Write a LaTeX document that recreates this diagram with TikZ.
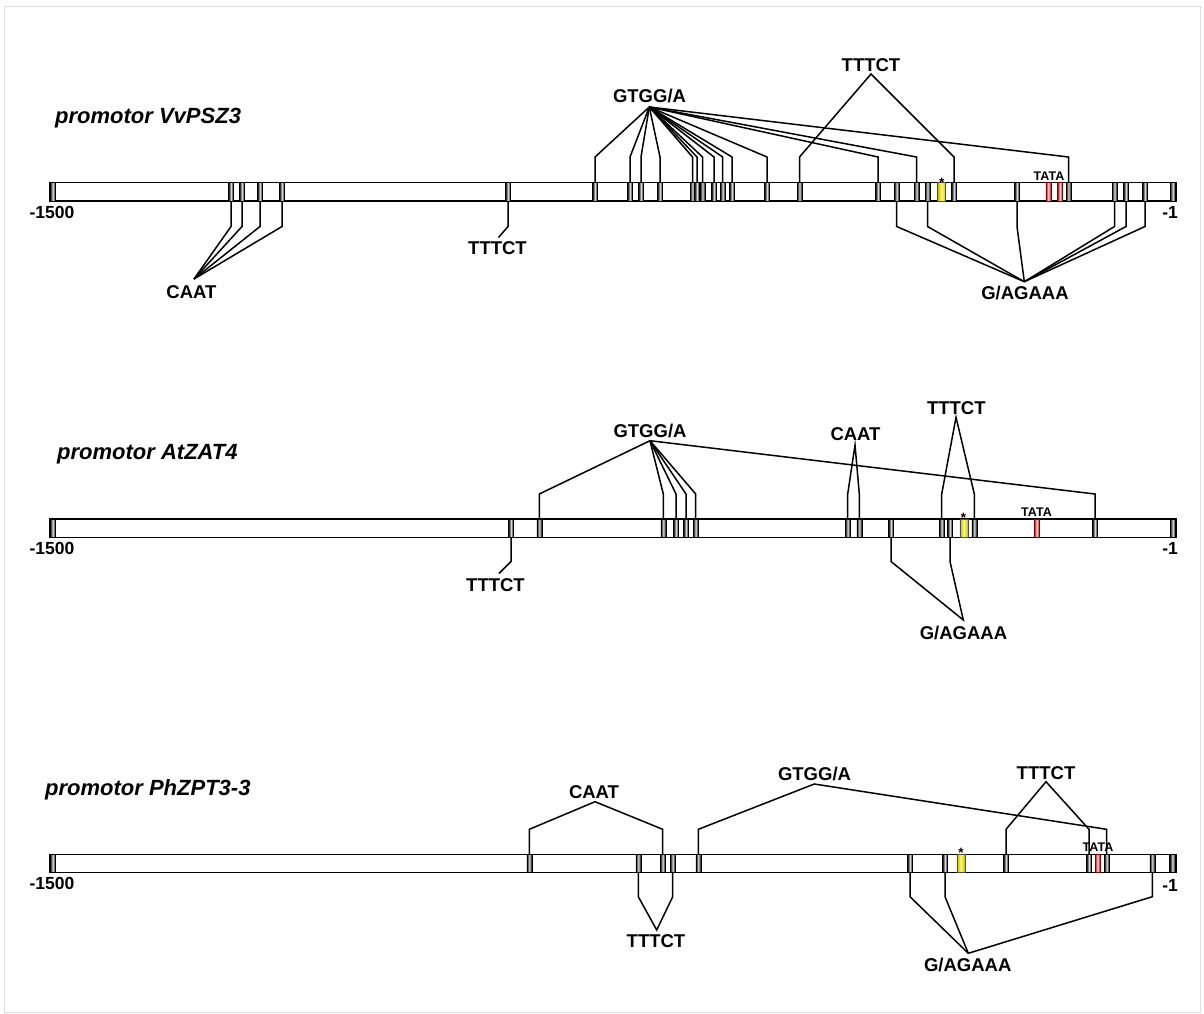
\documentclass[tikz,border=0pt]{standalone}
\usepackage{fontspec}
\setmainfont{Liberation Sans}
\begin{document}
\begin{tikzpicture}[x=1pt,y=-1pt,
  conn/.style={line width=1.5pt, line join=miter},
  barbox/.style={rectangle, draw=black, line width=1.5pt, fill=white, inner sep=0pt, minimum width=1126pt, minimum height=18.4pt},
  pmk/.style={rectangle, inner sep=0pt, minimum width=5pt, minimum height=18.4pt, left color=black, right color=black, middle color=black!15, draw=black, line width=0.6pt},
  endmk/.style={pmk, minimum width=5.5pt},
  ymk/.style={rectangle, inner sep=0pt, minimum width=8pt, minimum height=18.4pt, left color={rgb,255:red,200;green,190;blue,0}, right color={rgb,255:red,200;green,190;blue,0}, middle color={rgb,255:red,255;green,250;blue,120}, draw=black!70, line width=0.6pt},
  rmk/.style={rectangle, inner sep=0pt, minimum width=5pt, minimum height=18.4pt, left color=red!70!black, right color=red!70!black, middle color=red!15, draw=red!50!black, line width=0.6pt},
  lbl/.style={font=\bfseries\fontsize{18.5}{20}\selectfont, inner sep=0pt, text height=13.2pt, text depth=0pt},
  ttl/.style={font=\bfseries\itshape\fontsize{22}{24}\selectfont, inner sep=0pt, anchor=base west},
  num/.style={font=\bfseries\fontsize{17.5}{19}\selectfont, inner sep=0pt, text height=12.5pt, text depth=0pt},
  tata/.style={font=\bfseries\fontsize{12.5}{14}\selectfont, inner sep=0pt, text height=9pt, text depth=0pt},
  star/.style={font=\bfseries\fontsize{13.5}{14}\selectfont, inner sep=0pt, anchor=base}
]
\useasboundingbox (0,0) rectangle (1204,1013);
\draw[black!13, line width=1.5pt] (4.5,6.3) rectangle (1200.5,1012.5);

% ================= promotor VvPSZ3 =================
\node[ttl] (T1) at (55,123.3) {promotor VvPSZ3};
\node[barbox] (bar1) at (613,191.8) {};
\coordinate (kAt) at (0,157);
\coordinate (kAb) at (0,226.5);
\foreach \n/\x in {A1/231,A2/242,A3/260,A4/282,A5/508,A6/595,A7/630,A8/641,A9/660,A10/692.5,A11/697,A12/702.5,A13/714,A14/722.7,A15/732,A16/767,A17/799.5,A18/878,A19/896.7,A20/916.5,A21/927.5,A22/954,A23/1017,A24/1068.5,A25/1114.5,A26/1126,A27/1145}
  \node[pmk] (\n) at (\x,191.8) {};
\node[endmk] (A0) at (52.8,191.8) {};
\node[endmk] (Ae) at (1172.8,191.8) {};
\node[ymk] (Ay) at (941.7,191.8) {};
\node[rmk] (Ar1) at (1048.3,191.8) {};
\node[rmk] (Ar2) at (1060,191.8) {};

\node[lbl] (gA) at (649.5,95.5) {GTGG/A};
\coordinate (gAa) at (649.3,107);
\node[lbl] (tA) at (871,64.5) {TTTCT};
\coordinate (tAa) at (871,74);
\node[lbl] (cA) at (191.5,292) {CAAT};
\coordinate (cAa) at (194,279);
\node[lbl] (tbA) at (497.5,248) {TTTCT};
\coordinate (tbAa) at (498.5,237.5);
\node[lbl] (gaA) at (1025,293) {G/AGAAA};
\coordinate (gaAa) at (1024.3,281.7);
\node[tata] (taA) at (1049,176.2) {TATA};
\node[star] (sA) at (941.7,187) {*};
\node[num] (nA1) at (52,212.5) {-1500};
\node[num, anchor=east] (nA2) at (1178,212.5) {-1};

\foreach \m in {A6,A7,A8,A9,A10,A11,A12,A13,A14,A15,A16,A18,A20,A24}
  \draw[conn] (gAa) -- (\m |- kAt) -- (\m.north);
\draw[conn] (A17.north) -- (A17 |- kAt) -- (tAa) -- (A22 |- kAt) -- (A22.north);
\foreach \m in {A1,A2,A3,A4}
  \draw[conn] (cAa) -- (\m |- kAb) -- (\m.south);
\draw[conn] (A5.south) -- (A5 |- kAb) -- (tbAa);
\foreach \m in {A19,A21,A23,A25,A26,A27}
  \draw[conn] (gaAa) -- (\m |- kAb) -- (\m.south);

% ================= promotor AtZAT4 =================
\node[ttl] (T2) at (57,459.5) {promotor AtZAT4};
\node[barbox] (bar2) at (613,528.2) {};
\coordinate (kBt) at (0,494);
\coordinate (kBb) at (0,561.5);
\foreach \n/\x in {B1/511,B2/539.3,B3/663.3,B4/676,B5/686,B6/695.7,B7/847.7,B8/859.3,B9/891,B10/941.7,B11/950,B12/974.3,B13/1095}
  \node[pmk] (\n) at (\x,528.2) {};
\node[endmk] (B0) at (52.8,528.2) {};
\node[endmk] (Be) at (1172.8,528.2) {};
\node[ymk] (By) at (963.8,528.2) {};
\node[rmk] (Br) at (1036.7,528.2) {};

\node[lbl] (gB) at (650,431) {GTGG/A};
\coordinate (gBa) at (650,440.7);
\node[lbl] (cB) at (855.5,433.5) {CAAT};
\coordinate (cBa) at (855,445);
\node[lbl] (tB) at (956.3,407.5) {TTTCT};
\coordinate (tBa) at (956,417.3);
\node[lbl] (gaB) at (963.5,632.5) {G/AGAAA};
\coordinate (gaBa) at (963.3,620);
\node[lbl] (tbB) at (495.5,585) {TTTCT};
\coordinate (tbBa) at (499,573.5);
\node[tata] (taB) at (1036.5,512) {TATA};
\node[star] (sB) at (963.5,522) {*};
\node[num] (nB1) at (52,548.5) {-1500};
\node[num, anchor=east] (nB2) at (1178,548.5) {-1};

\foreach \m in {B2,B3,B4,B5,B6,B13}
  \draw[conn] (gBa) -- (\m |- kBt) -- (\m.north);
\draw[conn] (B7.north) -- (B7 |- kBt) -- (cBa) -- (B8 |- kBt) -- (B8.north);
\draw[conn] (B10.north) -- (B10 |- kBt) -- (tBa) -- (B12 |- kBt) -- (B12.north);
\draw[conn] (B9.south) -- (B9 |- kBb) -- (gaBa) -- (B11 |- kBb) -- (B11.south);
\draw[conn] (B1.south) -- (B1 |- kBb) -- (tbBa);

% ================= promotor PhZPT3-3 =================
\node[ttl] (T3) at (45,795.5) {promotor PhZPT3-3};
\node[barbox] (bar3) at (613,863.5) {};
\coordinate (kCt) at (0,829.3);
\coordinate (kCb) at (0,896.7);
\foreach \n/\x in {C1/529.3,C2/638.3,C3/662.7,C4/672.7,C5/698.3,C6/910,C7/945,C8/1006,C9/1089,C10/1106.7,C11/1152.3}
  \node[pmk] (\n) at (\x,863.5) {};
\node[endmk] (C0) at (52.8,863.5) {};
\node[endmk] (Ce) at (1172.5,863.5) {};
\node[ymk] (Cy) at (960.8,863.5) {};
\node[rmk] (Cr) at (1097.5,863.5) {};

\node[lbl] (cC) at (594,792) {CAAT};
\coordinate (cCa) at (595,801.7);
\node[lbl] (gC) at (814.5,774) {GTGG/A};
\coordinate (gCa) at (814.3,784);
\node[lbl] (tC) at (1046,772.5) {TTTCT};
\coordinate (tCa) at (1046,781.7);
\node[lbl] (tbC) at (656,941) {TTTCT};
\coordinate (tbCa) at (656.7,930);
\node[lbl] (gaC) at (967.7,964.5) {G/AGAAA};
\coordinate (gaCa) at (968.3,953.3);
\node[tata] (taC) at (1098,846.7) {TATA};
\node[star] (sC) at (961,857.5) {*};
\node[num] (nC1) at (52,883.5) {-1500};
\node[num, anchor=east] (nC2) at (1178,885.5) {-1};

\draw[conn] (C1.north) -- (C1 |- kCt) -- (cCa) -- (C3 |- kCt) -- (C3.north);
\draw[conn] (C5.north) -- (C5 |- kCt) -- (gCa) -- (C10 |- kCt) -- (C10.north);
\draw[conn] (C8.north) -- (C8 |- kCt) -- (tCa) -- (C9 |- kCt) -- (C9.north);
\draw[conn] (C2.south) -- (C2 |- kCb) -- (tbCa) -- (C4 |- kCb) -- (C4.south);
\foreach \m in {C6,C7,C11}
  \draw[conn] (gaCa) -- (\m |- kCb) -- (\m.south);
\end{tikzpicture}
\end{document}
